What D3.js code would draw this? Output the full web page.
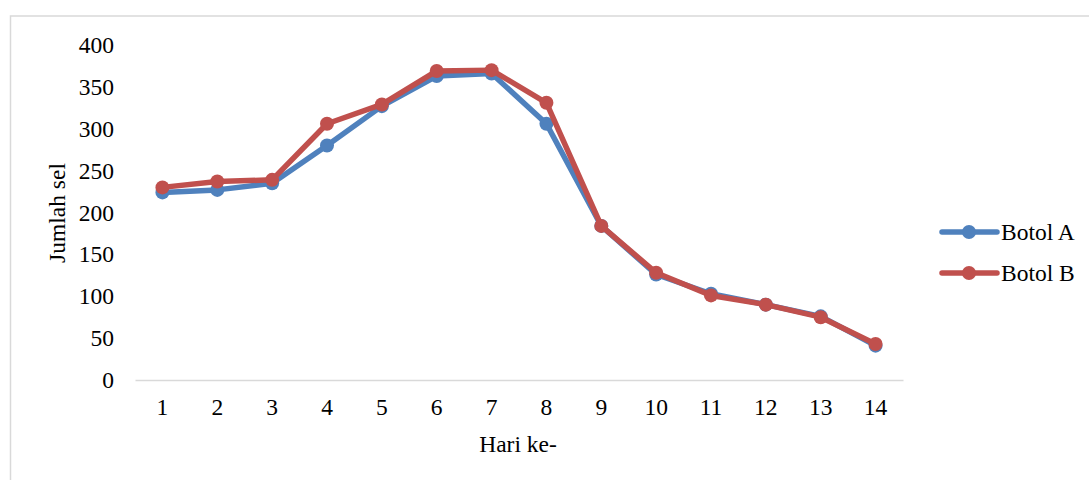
<!DOCTYPE html>
<html>
<head>
<meta charset="utf-8">
<script src="https://cdn.jsdelivr.net/npm/d3@7"></script>
<style>
  body { margin: 0; background: #fff; }
</style>
</head>
<body>
<div id="chart"></div>
<script>
// data
var days = ["1","2","3","4","5","6","7","8","9","10","11","12","13","14"];
var botolA = [224, 227, 235, 280, 327, 363, 366, 306, 184, 126, 103, 90, 76, 41];
var botolB = [230, 237, 239, 306, 329, 369, 370, 331, 184, 128, 101, 90, 75, 43];
var yTicks = [0, 50, 100, 150, 200, 250, 300, 350, 400];
var seriesNames = ["Botol A", "Botol B"];
var colors = ["#4F81BD", "#C0504D"];

var FONT = "'Liberation Serif', 'Times New Roman', 'DejaVu Serif', serif";

var W = 1089, H = 480;
var margin = { top: 45, left: 135, right: 186, bottom: 100 };
var width = W - margin.left - margin.right,
    height = H - margin.top - margin.bottom;

var svg = d3.select("#chart")
  .append("svg")
  .attr("width", W)
  .attr("height", H);

// chart frame (right and bottom run off the picture)
svg.append("rect")
  .attr("x", 10.5).attr("y", 16)
  .attr("width", 1200).attr("height", 600)
  .attr("fill", "none")
  .attr("stroke", "#d9d9d9")
  .attr("stroke-width", 1.5);

var g = svg.append("g")
  .attr("transform", "translate(" + margin.left + "," + margin.top + ")");

var x = d3.scaleBand()
  .domain(days)
  .range([0, width]);

var y = d3.scaleLinear()
  .domain([0, 400])
  .range([height, 0]);

// y axis labels
var yAxis = g.append("g")
  .call(d3.axisLeft(y).tickValues(yTicks).tickSize(0).tickPadding(21));
yAxis.select(".domain").remove();

// x axis
var xAxis = g.append("g")
  .attr("transform", "translate(0," + height + ")")
  .call(d3.axisBottom(x).tickSize(0).tickPadding(18));
xAxis.select(".domain")
  .attr("stroke", "#d9d9d9")
  .attr("stroke-width", 1.5);

// axis titles
svg.append("text")
  .attr("x", 518)
  .attr("y", 452)
  .style("text-anchor", "middle")
  .text("Hari ke-");

svg.append("text")
  .attr("transform", "translate(65,213) rotate(-90)")
  .style("text-anchor", "middle")
  .text("Jumlah sel");

var line = d3.line()
  .x(function (d, i) { return x(days[i]) + x.bandwidth() / 2; })
  .y(function (d) { return y(d); });

[botolA, botolB].forEach(function (vals, k) {
  g.append("path")
    .datum(vals)
    .attr("fill", "none")
    .attr("stroke", colors[k])
    .attr("stroke-width", 5.5)
    .attr("stroke-linejoin", "round")
    .attr("d", line);

  g.selectAll(".pt" + k)
    .data(vals)
    .enter().append("circle")
    .attr("class", "pt" + k)
    .attr("cx", function (d, i) { return x(days[i]) + x.bandwidth() / 2; })
    .attr("cy", function (d) { return y(d); })
    .attr("r", 7)
    .attr("fill", colors[k]);
});

// legend
var legend = svg.append("g")
  .attr("transform", "translate(942,232)");

seriesNames.forEach(function (name, k) {
  var row = legend.append("g")
    .attr("transform", "translate(0," + (k * 41) + ")");
  row.append("line")
    .attr("x1", 0).attr("x2", 55)
    .attr("stroke", colors[k])
    .attr("stroke-width", 5.5)
    .attr("stroke-linecap", "round");
  row.append("circle")
    .attr("cx", 27).attr("r", 7)
    .attr("fill", colors[k]);
  row.append("text")
    .attr("x", 59)
    .attr("y", 8)
    .text(name);
});

// all text in Times-like serif
svg.selectAll("text")
  .attr("font-family", null)
  .style("font-family", FONT)
  .style("font-size", "23.5px")
  .style("fill", "#000");
</script>
</body>
</html>
